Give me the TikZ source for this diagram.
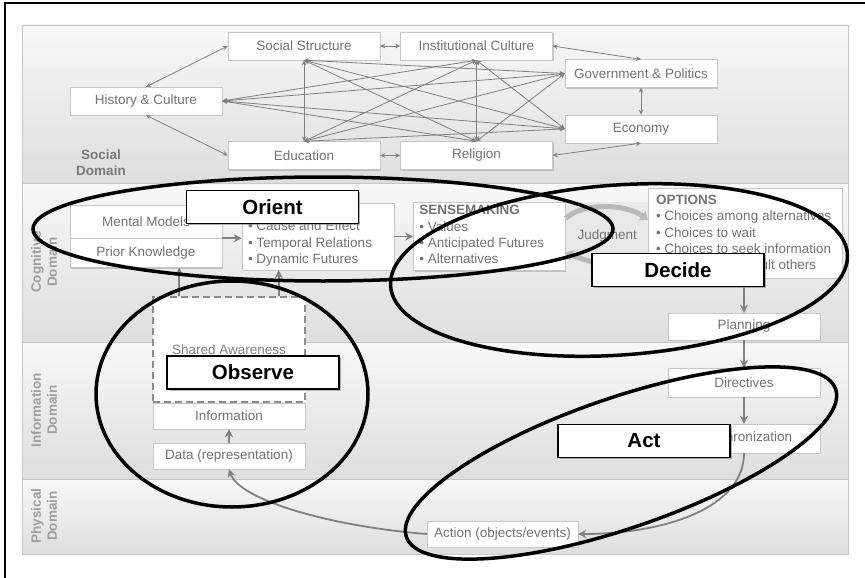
\documentclass[tikz,border=0pt]{standalone}
\usepackage{fontspec}
\setmainfont{Liberation Sans}
\usepackage{tikz}
\usetikzlibrary{arrows.meta,arrows,positioning,calc,shadows}

\begin{document}
\begin{tikzpicture}[
    x=1pt, y=-1pt,
    >=stealth',
    node distance=56pt,
    band/.style={draw=black!22,top color=black!3,bottom color=black!13},
    domlabel/.style={font=\bfseries\fontsize{13.5}{16}\selectfont,text=black!52,align=center},
    box/.style={rectangle,draw=black!22,fill=white,text=black!55,minimum width=152pt,
        minimum height=28pt,inner sep=2pt,font=\fontsize{13.5}{16}\selectfont,
        drop shadow={shadow xshift=1.2pt,shadow yshift=-1.2pt,fill=black!40,opacity=.5}},
    sharedbox/.style={rectangle,draw=black!45,fill=white,text=black!50,line width=1.5pt,
        dash pattern=on 7pt off 4pt,minimum width=152pt,font=\fontsize{13.5}{16}\selectfont},
    listtxt/.style={text=black!55,align=left,inner sep=0pt,font=\fontsize{13.5}{16.3}\selectfont},
    link/.style={{Stealth[length=5pt,width=4.5pt]}-{Stealth[length=5pt,width=4.5pt]},draw=black!50,line width=.8pt},
    flow/.style={-{Stealth[length=8pt,width=8pt]},draw=black!50,line width=1.8pt},
    judgarc/.style={-{Triangle[length=7pt,width=11pt]},draw=black!28,line width=5pt},
    phase/.style={draw=black,line width=3.5pt},
    phasetag/.style={rectangle,draw=black,line width=1.6pt,fill=white,minimum width=172pt,
        minimum height=33pt,font=\bfseries\fontsize{20.5}{24}\selectfont,
        drop shadow={shadow xshift=1.5pt,shadow yshift=-1.5pt,fill=black!50,opacity=.6}}
]
    \useasboundingbox (0,0) rectangle (865,578);
    \draw[line width=1.5pt] (5,578) -- (5,3) -- (865,3);

    % domains
    \shade[band] (22,25) rectangle (848,183);
    \shade[band] (22,183) rectangle (848,342);
    \shade[band] (22,342) rectangle (848,479);
    \shade[band] (22,479) rectangle (848,554);

    \node[domlabel] (soclab) at (101,163) {Social\\Domain};
    \node[domlabel,rotate=90,text=black!38] (coglab) at (44,262) {Cognitive\\Domain};
    \node[domlabel,rotate=90,text=black!38] (inflab) at (44,410) {Information\\Domain};
    \node[domlabel,rotate=90,text=black!38] (phylab) at (44,516) {Physical\\Domain};

    % social domain
    \node[box] (hist) at (146,101) {History \& Culture};
    \node[box] (sstr) at (304,46) {Social Structure};
    \node[box,right=20pt of sstr] (inst) {Institutional Culture};
    \node[box] (edu) at (304,155.5) {Education};
    \node[box,right=20pt of edu] (rel) {Religion};
    \node[box] (gov) at (641,73.5) {Government \& Politics};
    \node[box,below=27pt of gov] (econ) {Economy};

    \draw[link] (hist.north) -- (sstr.west);
    \draw[link] (hist.south) -- (edu.west);
    \draw[link] (sstr.east) -- (inst.west);
    \draw[link] (edu.east) -- (rel.west);
    \draw[link] (inst.east) -- (gov.north);
    \draw[link] (rel.east) -- (econ.south);
    \draw[link] (gov.south) -- (econ.north);
    \draw[link] (sstr.south) -- (edu.north);
    \draw[link] (inst.south) -- (rel.north);
    \foreach \a/\b in {hist.east/inst.south,hist.east/gov.west,hist.east/econ.west,hist.east/rel.north,
        sstr.south/rel.north,sstr.south/gov.west,sstr.south/econ.west,
        edu.north/inst.south,edu.north/gov.west,edu.north/econ.west,
        inst.south/econ.west,rel.north/gov.west}
        \draw[link] (\a) -- (\b);

    % cognitive domain
    \node[box,minimum height=33pt] (mental) at (146,221.5) {Mental Models};
    \node[box,minimum height=29pt,below=0pt of mental] (prior) {Prior Knowledge};
    \node[box,minimum height=67pt] (cause) at (318,236.5) {};
    \node[listtxt,anchor=north west] (causetxt) at ([xshift=6pt,yshift=-18pt]cause.north west)
        {\textbullet{} Cause and Effect\\\textbullet{} Temporal Relations\\\textbullet{} Dynamic Futures};
    \node[box,minimum height=68pt,right=19pt of cause] (sense) {};
    \node[listtxt,anchor=north west] (sensetxt) at ([xshift=6pt,yshift=-3pt]sense.north west)
        {\textbf{SENSEMAKING}\\\textbullet{} Values\\\textbullet{} Anticipated Futures\\\textbullet{} Alternatives};
    \node[fill=black!9,minimum width=83pt,minimum height=70pt,right=0pt of sense,text=black!55,
        font=\fontsize{13.5}{16}\selectfont] (judg) {Judgment};
    \node[box,minimum width=194pt,minimum height=90pt] (opts) at (745,233) {};
    \node[listtxt,anchor=north west] (optstxt) at ([xshift=8pt,yshift=-7pt]opts.north west)
        {\textbf{OPTIONS}\\\textbullet{} Choices among alternatives\\\textbullet{} Choices to wait\\
         \textbullet{} Choices to seek information\\\textbullet{} Choices to consult others};
    \draw[judgarc] ([yshift=-16pt]sense.north east) .. controls +(18,-16) and +(-22,-16) .. ([yshift=-32pt]opts.north west);
    \draw[judgarc] ([yshift=14pt]opts.south west) .. controls +(-20,10) and +(20,8) .. ([yshift=18pt]sense.south east);

    \draw[flow] (mental.south east) -- (mental.south east -| cause.west);
    \draw[flow] (cause.east) -- (sense.west);

    \node[box,minimum height=27pt] (plan) at (744,326.5) {Planning};
    \draw[flow] (opts.south -| plan.north) -- (plan.north);

    % information and physical domains
    \node[box,minimum height=29pt,below of=plan] (dir) {Directives};
    \node[box,minimum height=29pt,below of=dir] (sync) {Synchronization};
    \node[box,minimum width=151pt,minimum height=26pt] (action) at (502.5,534) {Action (objects/events)};
    \node[box,minimum height=26pt] (data) at (229,456) {Data (representation)};
    \node[box,minimum height=26pt,above of=data,node distance=40pt] (info) {Information};
    \node[sharedbox,minimum height=105pt] (shared) at (229,349.5) {Shared Awareness};

    \draw[flow] (plan.south) -- (dir.north);
    \draw[flow] (dir.south) -- (sync.north);
    \draw[flow] (sync.south) .. controls +(0,55) and +(86,0) .. (action.east);
    \draw[flow] (action.west) .. controls +(-100,-8) and +(10,30) .. (data.south);
    \draw[flow] (data.north) -- (info.south);
    \draw[flow] ([xshift=27pt]shared.north west) -- ([xshift=27pt]shared.north west |- prior.south);
    \draw[flow] ([xshift=-27pt]shared.north east) -- ([xshift=-27pt]shared.north east |- cause.south);

    % OODA loops
    \draw[phase] (323,229) ellipse [x radius=290pt, y radius=52pt];
    \draw[phase,rotate around={4:(619,270)}] (619,270) ellipse [x radius=229pt, y radius=85pt];
    \draw[phase] (232,394) ellipse [x radius=136pt, y radius=113pt];
    \draw[phase,rotate around={19:(621,463)}] (621,463) ellipse [x radius=227pt, y radius=65pt];

    \node[phasetag] (orient) at (272.5,207) {Orient};
    \node[phasetag] (decide) at (678,270) {Decide};
    \node[phasetag] (observe) at (253,372.5) {Observe};
    \node[phasetag] (act) at (644,441) {Act};
\end{tikzpicture}
\end{document}
